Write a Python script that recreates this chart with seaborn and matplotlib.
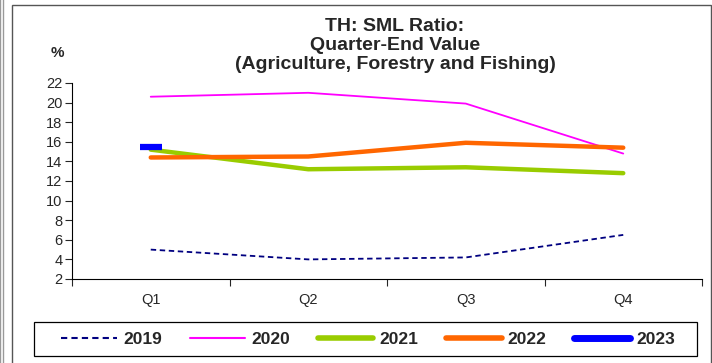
import matplotlib
matplotlib.use('Agg')
import matplotlib.pyplot as plt
import seaborn as sns
from matplotlib.lines import Line2D
from matplotlib.patches import Rectangle

quarters = ['Q1', 'Q2', 'Q3', 'Q4']
y2019 = [5.0, 4.0, 4.2, 6.5]
y2020 = [20.6, 21.0, 19.9, 14.8]
y2021 = [15.2, 13.2, 13.4, 12.8]
y2022 = [14.4, 14.5, 15.9, 15.4]
y2023 = [15.5]

sns.set_style('white')
plt.rcParams['font.family'] = ['Liberation Sans', 'DejaVu Sans']

fig = plt.figure(figsize=(7.12, 3.63), dpi=100)
ax = fig.add_axes([72/712, 1 - 279/363, (702 - 72)/712, (279 - 83)/363])

x = [0, 1, 2, 3]
sns.lineplot(x=x, y=y2019, ax=ax, color='#000080', lw=1.3, linestyle=(0, (3, 2)))
sns.lineplot(x=x, y=y2020, ax=ax, color='#FF00FF', lw=1.3)
sns.lineplot(x=x, y=y2021, ax=ax, color='#99CC00', lw=3.2, solid_capstyle='round')
sns.lineplot(x=x, y=y2022, ax=ax, color='#FF6600', lw=3.2, solid_capstyle='round')
ax.plot([0], y2023, marker='_', markersize=16, mew=4.5, color='#0000FF', ls='none')

ax.set_xlim(-0.5, 3.5)
ax.set_ylim(2, 22)
ax.set_yticks(range(2, 23, 2))
ax.set_xticks(x)
ax.set_xticklabels(quarters)
ax.set_xticks([-0.5, 0.5, 1.5, 2.5, 3.5], minor=True)
ax.tick_params(axis='x', which='major', length=0, pad=10, labelsize=10.5)
ax.tick_params(axis='x', which='minor', length=5, width=0.8, direction='out', bottom=True)
ax.tick_params(axis='y', length=5, width=0.8, direction='out', left=True, labelsize=10.5, pad=2)
for s in ['top', 'right']:
    ax.spines[s].set_visible(False)
for s in ['left', 'bottom']:
    ax.spines[s].set_color('black')
    ax.spines[s].set_linewidth(0.8)
ax.set_xlabel('')
ax.set_ylabel('')

fig.text(395/712, 1 - 18/363, 'TH: SML Ratio:\nQuarter-End Value\n(Agriculture, Forestry and Fishing)',
         ha='center', va='top', fontsize=14, fontweight='bold', linespacing=1.17)
fig.text(57/712, 1 - 53/363, '%', ha='center', va='center', fontsize=11, fontweight='bold')

handles = [
    Line2D([], [], color='#000080', lw=1.5, linestyle=(0, (3, 2))),
    Line2D([], [], color='#FF00FF', lw=1.5),
    Line2D([], [], color='#99CC00', lw=4, solid_capstyle='round'),
    Line2D([], [], color='#FF6600', lw=4, solid_capstyle='round'),
    Line2D([], [], color='#0000FF', lw=5, solid_capstyle='round'),
]
labels = ['2019', '2020', '2021', '2022', '2023']
leg = fig.legend(handles, labels, ncol=5, loc='center',
                 bbox_to_anchor=(368/712, 1 - 339/363), frameon=False,
                 prop={'weight': 'bold', 'size': 12.5},
                 handlelength=3.2, handletextpad=0.35, columnspacing=1.6)

# legend box
fig.patches.append(Rectangle((34/712, 1 - 356/363), 663/712, 34/363, transform=fig.transFigure,
                             fill=False, edgecolor='black', lw=0.9))
# outer chart border
fig.patches.append(Rectangle((12/712, -0.01), 699/712, 1 - 5/363 + 0.01, transform=fig.transFigure,
                             fill=False, edgecolor='#555555', lw=1.0))
fig.patches.append(Rectangle((0, -0.01), 3/712, 1.02, transform=fig.transFigure,
                             fill=False, edgecolor='#999999', lw=1.0))

fig.savefig('out.png', dpi=100)
